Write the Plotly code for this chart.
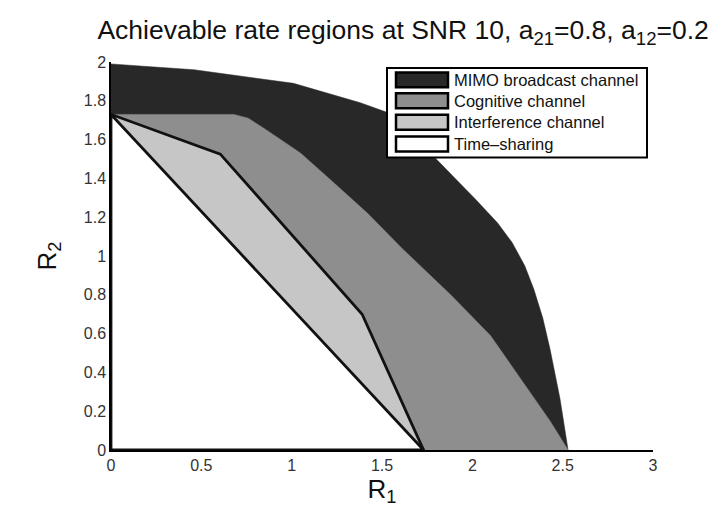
import plotly.graph_objects as go

# Rate-region boundaries (R1, R2) at SNR 10
mimo_r1 = [0.0, 0.46, 1.01, 1.38, 1.53, 1.67, 1.80, 2.02, 2.14, 2.22, 2.29, 2.34, 2.39, 2.43, 2.485, 2.53]
mimo_r2 = [1.99, 1.96, 1.89, 1.79, 1.74, 1.64, 1.50, 1.29, 1.17, 1.07, 0.95, 0.83, 0.68, 0.52, 0.265, 0.0]

cog_r1 = [0.0, 0.68, 0.76, 0.86, 1.05, 1.23, 1.42, 1.61, 1.88, 2.10, 2.28, 2.43, 2.53]
cog_r2 = [1.73, 1.73, 1.71, 1.65, 1.53, 1.38, 1.22, 1.04, 0.80, 0.59, 0.35, 0.15, 0.0]

intf_r1 = [0.0, 0.605, 1.39, 1.73]
intf_r2 = [1.73, 1.525, 0.70, 0.0]

ts_r1 = [0.0, 1.73]
ts_r2 = [1.73, 0.0]

names = ["MIMO broadcast channel", "Cognitive channel", "Interference channel", "Time\u2013sharing"]
fills = ["#282828", "#8e8e8e", "#c6c6c6", "#ffffff"]
outline_w = [0, 0, 2.8, 2.8]

x_ticks = [0, 0.5, 1, 1.5, 2, 2.5, 3]
x_tick_text = ["0", "0.5", "1", "1.5", "2", "2.5", "3"]
y_ticks = [0, 0.2, 0.4, 0.6, 0.8, 1, 1.2, 1.4, 1.6, 1.8, 2]
y_tick_text = ["0", "0.2", "0.4", "0.6", "0.8", "1", "1.2", "1.4", "1.6", "1.8", "2"]

FONT = "Liberation Sans, Arial, Helvetica, sans-serif"
W, H = 725, 508
ML, MR, MT, MB = 111, 72, 62, 56
PW, PH = W - ML - MR, H - MT - MB

fig = go.Figure()
regions = [(mimo_r1, mimo_r2), (cog_r1, cog_r2), (intf_r1, intf_r2), (ts_r1, ts_r2)]
for (r1, r2), name, fc, lw in zip(regions, names, fills, outline_w):
    # each region is closed through the origin
    xs = [0.0] + list(r1) + [0.0]
    ys = [0.0] + list(r2) + [0.0]
    fig.add_trace(go.Scatter(
        x=xs, y=ys, mode="lines", fill="toself", fillcolor=fc, name=name,
        line=dict(color="#111111" if lw > 0 else fc, width=lw if lw > 0 else 0.5),
        showlegend=False, hoverinfo="skip",
    ))


def px_x(p):
    return (p - ML) / PW


def px_y(p):
    return (H - MB - p) / PH


# legend box drawn in paper coordinates
shapes = [dict(type="rect", xref="paper", yref="paper",
               x0=px_x(387), x1=px_x(647), y0=px_y(158), y1=px_y(68),
               fillcolor="white", line=dict(color="black", width=2), layer="above")]
annotations = []
row_centres = [80, 101, 122.5, 144.5]
for name, fc, yc in zip(names, fills, row_centres):
    shapes.append(dict(type="rect", xref="paper", yref="paper",
                       x0=px_x(396), x1=px_x(448), y0=px_y(yc + 7.5), y1=px_y(yc - 7.5),
                       fillcolor=fc, line=dict(color="black", width=2.5), layer="above"))
    annotations.append(dict(text=name, xref="paper", yref="paper", x=px_x(452), y=px_y(yc),
                            xanchor="left", yanchor="middle", showarrow=False,
                            font=dict(family=FONT, size=16.5, color="#111111")))

fig.update_layout(
    width=W, height=H,
    margin=dict(l=ML, r=MR, t=MT, b=MB),
    paper_bgcolor="white", plot_bgcolor="white",
    font=dict(family=FONT, color="#222222"),
    title=dict(text="Achievable rate regions at SNR 10, a<sub>21</sub>=0.8, a<sub>12</sub>=0.2",
               x=0.556, xanchor="center", y=1 - 30 / H, yanchor="middle", yref="container",
               font=dict(family=FONT, size=26.5, color="#111111")),
    xaxis=dict(range=[0, 3], tickvals=x_ticks, ticktext=x_tick_text,
               showgrid=False, zeroline=False, showline=True, linecolor="black", linewidth=1.5,
               ticks="inside", ticklen=0, tickfont=dict(family=FONT, size=16, color="#333333"),
               minor=dict(tickvals=[3], ticks="inside", ticklen=6, tickcolor="#555555", tickwidth=1),
               title=dict(text="R<sub>1</sub>", font=dict(family=FONT, size=26, color="#111111"), standoff=4)),
    yaxis=dict(range=[0, 2], tickvals=y_ticks, ticktext=y_tick_text,
               showgrid=False, zeroline=False, showline=True, linecolor="black", linewidth=1.5,
               ticks="inside", ticklen=0, tickfont=dict(family=FONT, size=16, color="#333333"),
               minor=dict(tickvals=[2], ticks="inside", ticklen=6, tickcolor="#555555", tickwidth=1),
               title=dict(text="R<sub>2</sub>", font=dict(family=FONT, size=26, color="#111111"), standoff=20)),
    shapes=shapes, annotations=annotations,
)

fig.write_html("out.html")
